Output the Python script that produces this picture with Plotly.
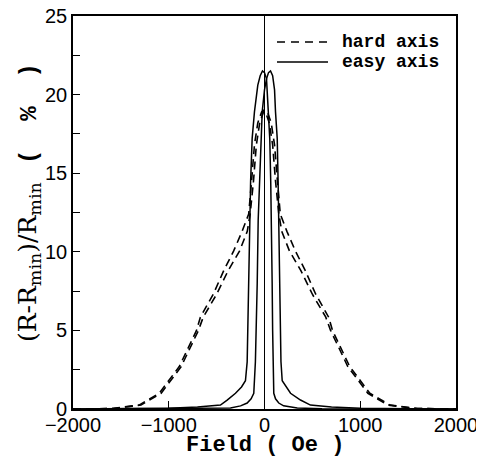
import plotly.graph_objects as go

# ---- data ----
hard_a_field = [-2000, -1600, -1310, -1100, -890, -710, -670, -535, -426, -322, -234, -165, -135, -105, -70, -30, -10,
                10, 50, 85, 115, 150, 180, 260, 380, 500, 640, 690, 870, 1080, 1290, 1580, 2000]
hard_a_mr = [0, 0.03, 0.25, 1.0, 2.7, 5.0, 5.84, 7.3, 8.8, 10.06, 11.3, 12.4, 14.5, 16.8, 18.2, 18.9, 19.0,
             18.9, 18.2, 16.8, 14.5, 12.4, 11.3, 10.06, 8.8, 7.3, 5.84, 5.0, 2.7, 1.0, 0.25, 0.03, 0]

hard_b_field = [-2000, -1580, -1290, -1080, -870, -690, -640, -500, -380, -260, -180, -150, -115, -85, -50, -10,
                10, 30, 70, 105, 135, 165, 234, 322, 426, 535, 670, 710, 890, 1100, 1310, 1600, 2000]
hard_b_mr = [0, 0.03, 0.25, 1.0, 2.7, 5.0, 5.84, 7.3, 8.8, 10.06, 11.3, 12.4, 14.5, 16.8, 18.2, 18.9,
             19.0, 18.9, 18.2, 16.8, 14.5, 12.4, 11.3, 10.06, 8.8, 7.3, 5.84, 5.0, 2.7, 1.0, 0.25, 0.03, 0]

easy_a_field = [-2000, -1500, -1000, -700, -460, -390, -303, -240, -199, -181, -175, -168, -157, -145, -129, -105,
                -70, -45, -21, 0, 21, 42, 55, 65, 73, 80, 85, 90, 97, 115, 149, 200, 342, 600, 1000, 2000]
easy_a_mr = [0, 0.02, 0.05, 0.12, 0.25, 0.57, 1.0, 1.4, 1.8, 3.0, 5.0, 8.0, 12.0, 14.5, 17.2, 18.9,
             20.6, 21.2, 21.5, 21.4, 21.0, 18.9, 17.2, 14.5, 12.0, 8.0, 5.0, 3.0, 1.0, 0.65, 0.38, 0.2, 0.06, 0.02, 0.01, 0]

easy_b_field = [-2000, -1000, -600, -355, -250, -181, -140, -112, -95, -85, -76, -66, -50, -34, -24, 0, 21, 42,
                63, 85, 105, 115, 133, 142, 149, 157, 163, 172, 185, 272, 376, 480, 700, 1000, 1500, 2000]
easy_b_mr = [0, 0.01, 0.02, 0.06, 0.2, 0.38, 0.65, 1.0, 3.0, 5.0, 8.0, 12.0, 14.5, 17.2, 18.9, 20.3, 21.0, 21.4,
             21.5, 21.2, 20.3, 18.9, 17.2, 14.5, 12.0, 8.0, 5.0, 3.0, 1.8, 1.0, 0.57, 0.25, 0.12, 0.05, 0.02, 0]

zero_field = 0
x_ticks = [-2000, -1000, 0, 1000, 2000]
y_ticks = [0, 5, 10, 15, 20, 25]
legend_labels = ["hard axis", "easy axis"]

MONO = "Liberation Mono"
SERIF = "DejaVu Serif"
SANS = "Liberation Sans"

# target plot area in window pixels; the page body adds an 8px offset
OFF = 8
W, H = 484, 463
L, R, T, B = 73, 28, 16, 54          # as seen in the window
ML, MR, MT, MB = L - OFF, R + OFF, T - OFF, B + OFF
PW, PH = W - L - R, H - T - B


def px(x):
    return (x - L) / PW


def py(y):
    return (H - B - y) / PH


fig = go.Figure()
dash = "8px,5px"
fig.add_trace(go.Scatter(x=hard_a_field, y=hard_a_mr, mode="lines", name=legend_labels[0],
                         line=dict(color="black", width=1.6, dash=dash)))
fig.add_trace(go.Scatter(x=hard_b_field, y=hard_b_mr, mode="lines", name=legend_labels[0],
                         line=dict(color="black", width=1.6, dash=dash)))
fig.add_trace(go.Scatter(x=easy_a_field, y=easy_a_mr, mode="lines", name=legend_labels[1],
                         line=dict(color="black", width=1.5)))
fig.add_trace(go.Scatter(x=easy_b_field, y=easy_b_mr, mode="lines", name=legend_labels[1],
                         line=dict(color="black", width=1.5)))

fig.add_vline(x=zero_field, line=dict(color="black", width=1))

# legend (key lines + labels, placed like the original)
fig.add_shape(type="line", xref="paper", yref="paper", x0=px(277), x1=px(328), y0=py(42), y1=py(42),
              line=dict(color="black", width=1.6, dash="8px,6px"))
fig.add_shape(type="line", xref="paper", yref="paper", x0=px(277), x1=px(328), y0=py(62), y1=py(62),
              line=dict(color="black", width=1.5))
for lab, yy in zip(legend_labels, [42, 62]):
    fig.add_annotation(text="<b>" + lab + "</b>", xref="paper", yref="paper", x=px(340), y=py(yy),
                       xanchor="left", yanchor="middle", showarrow=False,
                       font=dict(family=MONO, size=18, color="black"))

# axis titles
fig.add_annotation(text="<b>Field ( Oe )</b>", xref="paper", yref="paper", x=px(265), y=py(445),
                   xanchor="center", yanchor="middle", showarrow=False,
                   font=dict(family=MONO, size=22, color="black"))
fig.add_annotation(text="(R-R<sub>min</sub>)/R<sub>min</sub>", xref="paper", yref="paper",
                   x=px(29), y=py(262), xanchor="center", yanchor="middle", textangle=-90, showarrow=False,
                   font=dict(family=SERIF, size=25, color="black"))
fig.add_annotation(text="<b>(&nbsp;&nbsp;%&nbsp;&nbsp;)</b>", xref="paper", yref="paper",
                   x=px(29), y=py(114), xanchor="center", yanchor="middle", textangle=-90, showarrow=False,
                   font=dict(family=MONO, size=24, color="black"))

fig.update_layout(
    width=W, height=H,
    margin=dict(l=ML, r=MR, t=MT, b=MB),
    paper_bgcolor="white", plot_bgcolor="white",
    showlegend=False,
    xaxis=dict(range=[-2000, 2000], tickvals=x_ticks, ticks="inside", ticklen=8,
               tickwidth=1.3, tickcolor="black", automargin=False, ticklabeloverflow="allow",
               ticklabelstandoff=-3,
               showline=True, mirror=True, linecolor="black", linewidth=1.6,
               showgrid=False, zeroline=False,
               tickfont=dict(family=SANS, size=20, color="black")),
    yaxis=dict(range=[0, 25], tickvals=y_ticks, ticks="inside", ticklen=7,
               tickwidth=1.3, tickcolor="black", automargin=False, ticklabeloverflow="allow",
               minor=dict(dtick=2.5, tick0=0, ticks="inside", ticklen=7, tickwidth=1.3, tickcolor="black"),
               showline=True, mirror=True, linecolor="black", linewidth=1.6,
               showgrid=False, zeroline=False,
               tickfont=dict(family=SANS, size=20, color="black")),
)

fig.write_html("out.html")
